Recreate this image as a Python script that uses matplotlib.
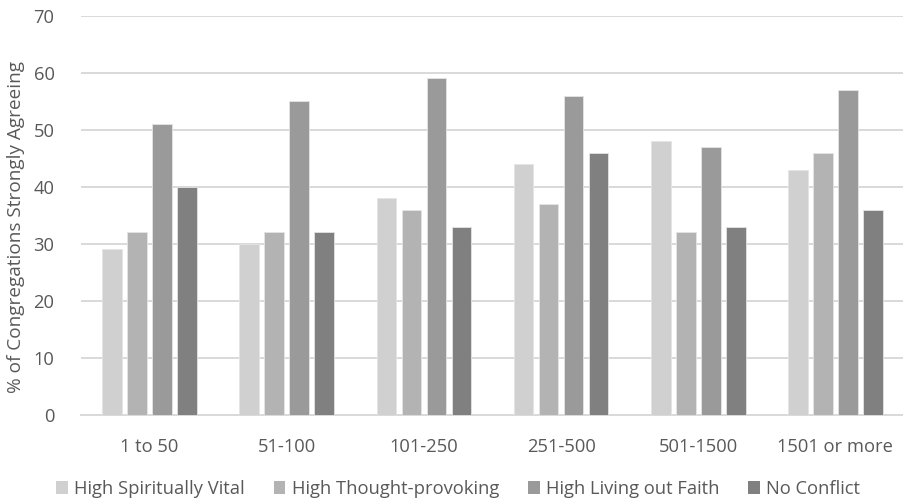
import matplotlib
matplotlib.use("Agg")
import matplotlib.pyplot as plt
import numpy as np

categories = ["1 to 50", "51-100", "101-250", "251-500", "501-1500", "1501 or more"]
series_names = ["High Spiritually Vital", "High Thought-provoking",
                "High Living out Faith", "No Conflict"]
spiritually_vital = [29, 30, 38, 44, 48, 43]
thought_provoking = [32, 32, 36, 37, 32, 46]
living_out_faith = [51, 55, 59, 56, 47, 57]
no_conflict = [40, 32, 33, 46, 33, 36]
y_ticks = [0, 10, 20, 30, 40, 50, 60, 70]

series = [spiritually_vital, thought_provoking, living_out_faith, no_conflict]
colors = ["#d0d0d0", "#b3b3b3", "#9a9a9a", "#808080"]
text_color = "#595959"

plt.rcParams["font.family"] = ["Open Sans", "DejaVu Sans"]

fig = plt.figure(figsize=(9.04, 5.0), dpi=100)
ax = fig.add_axes([81 / 904, 1 - 414.7 / 500, 1 - 81 / 904, (414.7 - 15.7) / 500])

x = np.arange(len(categories))
pitch = 0.1825
width = 0.143
for i, (vals, col, name) in enumerate(zip(series, colors, series_names)):
    ax.bar(x + (i - 1.5) * pitch, vals, width=width, color=col, label=name,
           edgecolor="#e4e4e4", linewidth=0.6, zorder=3)

ax.set_xlim(-0.5, len(categories) - 0.5)
ax.set_ylim(0, 70)
ax.set_yticks(y_ticks)
ax.set_xticks(x)
ax.set_xticklabels(categories)
ax.yaxis.grid(True, color="#d9d9d9", linewidth=1.4, zorder=0)
ax.set_axisbelow(True)
for side in ["top", "right", "left"]:
    ax.spines[side].set_visible(False)
ax.spines["bottom"].set_color("#d9d9d9")
ax.spines["bottom"].set_linewidth(1.4)
ax.tick_params(axis="both", length=0, labelsize=13.2, colors=text_color)
ax.tick_params(axis="y", pad=19)
ax.tick_params(axis="x", pad=17)

fig.text(16 / 904, 1 - 227 / 500, "% of Congregations Strongly Agreeing",
         rotation=90, ha="center", va="center", fontsize=13.7, color=text_color)

leg = fig.legend(loc="center", bbox_to_anchor=(458 / 904, 1 - 489 / 500), ncol=4,
                 frameon=False, fontsize=13.2, handlelength=0.65, handleheight=0.65,
                 handletextpad=0.33, columnspacing=1.58, labelcolor=text_color)
for h in leg.legend_handles:
    h.set_edgecolor("none")

fig.savefig("out.png", dpi=100, facecolor="white")
